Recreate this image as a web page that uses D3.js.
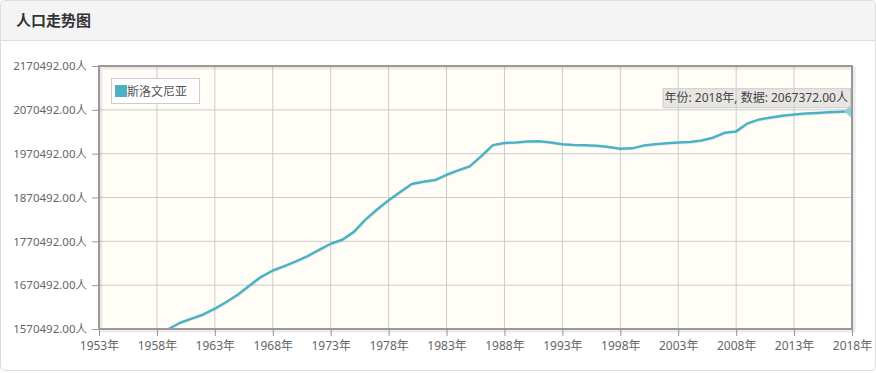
<!DOCTYPE html>
<html lang="zh">
<head>
  <meta charset="UTF-8">
  <title>人口走势图</title>
  <script src="https://d3js.org/d3.v7.min.js"></script>
  <style>
    body { margin: 0; background: #fff; }
    svg text { font-family: "Noto Sans", "Noto Sans CJK SC", sans-serif; }
  </style>
</head>
<body>
<div id="chartContainer"></div>
<script>
  // data
  const seriesName = "斯洛文尼亚";
  const years = d3.range(1959, 2019);
  const population = [
    1570492, 1584700, 1594100, 1603600, 1617000, 1632100, 1649200, 1669900, 1689500, 1704000,
    1713900, 1724900, 1736800, 1751200, 1765000, 1774000, 1792000, 1820000, 1843000, 1864000,
    1883000, 1901300, 1906500, 1910300, 1922300, 1932200, 1941600, 1965000, 1990000, 1995000,
    1996000, 1998000, 1999000, 1996000, 1992000, 1990000, 1989500, 1988500, 1985500, 1981600,
    1982600, 1988900, 1992000, 1994500, 1995700, 1997000, 2000500, 2006900, 2018100, 2021300,
    2039700, 2048600, 2052800, 2057200, 2060000, 2062000, 2063500, 2065000, 2066400, 2067372
  ];
  const xTicks = [1953, 1958, 1963, 1968, 1973, 1978, 1983, 1988, 1993, 1998, 2003, 2008, 2013, 2018];
  const yTicks = [1570492, 1670492, 1770492, 1870492, 1970492, 2070492, 2170492];

  const width = 876, height = 373;
  const plot = { left: 99, right: 852, top: 66, bottom: 329 };
  const lineColor = "#4bb2c5";

  const svg = d3.select("#chartContainer").append("svg")
    .attr("width", width)
    .attr("height", height);

  // panel + header
  svg.append("rect")
    .attr("x", 0.5).attr("y", 0.5)
    .attr("width", width - 1).attr("height", height - 3)
    .attr("rx", 4)
    .attr("fill", "#fff").attr("stroke", "#dddddd");
  svg.append("path")
    .attr("d", `M1,40 V5 Q1,1 5,1 H${width - 5} Q${width - 1},1 ${width - 1},5 V40 Z`)
    .attr("fill", "#f4f4f4");
  svg.append("line")
    .attr("x1", 1).attr("x2", width - 1)
    .attr("y1", 40.5).attr("y2", 40.5)
    .attr("stroke", "#dddddd");
  svg.append("text")
    .attr("x", 16).attr("y", 26)
    .attr("font-size", "15px").attr("font-weight", "bold")
    .attr("fill", "#333")
    .text("人口走势图");

  const xScale = d3.scaleLinear().domain([xTicks[0], xTicks[xTicks.length - 1]]).range([plot.left, plot.right]);
  const yScale = d3.scaleLinear().domain([yTicks[0], yTicks[yTicks.length - 1]]).range([plot.bottom, plot.top]);

  // plot background
  svg.append("rect")
    .attr("x", plot.left).attr("y", plot.top)
    .attr("width", plot.right - plot.left).attr("height", plot.bottom - plot.top)
    .attr("fill", "#fffdf6");

  // grid
  svg.append("g").selectAll("line").data(xTicks).join("line")
    .attr("x1", d => xScale(d)).attr("x2", d => xScale(d))
    .attr("y1", plot.top).attr("y2", plot.bottom)
    .attr("stroke", "#cccccc");
  svg.append("g").selectAll("line").data(yTicks).join("line")
    .attr("x1", plot.left).attr("x2", plot.right)
    .attr("y1", d => yScale(d)).attr("y2", d => yScale(d))
    .attr("stroke", "#cccccc");

  // axes
  const yAxis = d3.axisLeft(yScale).tickValues(yTicks)
    .tickFormat(d => d.toFixed(2) + "人").tickSize(6).tickPadding(5);
  const xAxis = d3.axisBottom(xScale).tickValues(xTicks)
    .tickFormat(d => d + "年").tickSize(6).tickPadding(5);

  const gy = svg.append("g").attr("transform", `translate(${plot.left - 1},0)`).call(yAxis);
  const gx = svg.append("g").attr("transform", `translate(0,${plot.bottom + 1})`).call(xAxis);
  [gx, gy].forEach(g => {
    g.select(".domain").remove();
    g.selectAll(".tick line").attr("stroke", "#999");
    g.selectAll(".tick text").attr("fill", "#666").attr("font-size", "12px")
      .attr("font-family", "\"Noto Sans\", \"Noto Sans CJK SC\", sans-serif");
  });
  gy.selectAll(".tick text").attr("font-size", "11.5px");

  // series
  const clip = svg.append("clipPath").attr("id", "plotClip").append("rect")
    .attr("x", plot.left).attr("y", plot.top)
    .attr("width", plot.right - plot.left).attr("height", plot.bottom - plot.top);

  const points = years.map((yr, i) => [yr, population[i]]);
  const line = d3.line().x(d => xScale(d[0])).y(d => yScale(d[1]));
  const series = svg.append("g").attr("clip-path", "url(#plotClip)");
  series.append("path").datum(points)
    .attr("d", line)
    .attr("transform", "translate(1,1)")
    .attr("fill", "none").attr("stroke", "rgba(0,0,0,0.05)").attr("stroke-width", 2.5);
  series.append("path").datum(points)
    .attr("d", line)
    .attr("fill", "none").attr("stroke", lineColor).attr("stroke-width", 2.5)
    .attr("stroke-linejoin", "round");

  // highlighted last point
  const last = points[points.length - 1];
  const hx = xScale(last[0]), hy = yScale(last[1]), hr = 7.5;
  series.append("path")
    .attr("d", `M${hx - hr},${hy} L${hx},${hy - hr} L${hx + hr},${hy} L${hx},${hy + hr} Z`)
    .attr("fill", "#8ad0dc");

  // plot border with shadow
  svg.append("rect")
    .attr("x", plot.left + 2).attr("y", plot.top + 2)
    .attr("width", plot.right - plot.left).attr("height", plot.bottom - plot.top)
    .attr("fill", "none").attr("stroke", "rgba(0,0,0,0.08)").attr("stroke-width", 3);
  svg.append("rect")
    .attr("x", plot.left).attr("y", plot.top)
    .attr("width", plot.right - plot.left).attr("height", plot.bottom - plot.top)
    .attr("fill", "none").attr("stroke", "#999999").attr("stroke-width", 2);

  // legend
  const legend = svg.append("g").attr("transform", `translate(${plot.left + 12},${plot.top + 12})`);
  legend.append("rect")
    .attr("x", 0.5).attr("y", 0.5).attr("width", 88).attr("height", 25)
    .attr("fill", "#fff").attr("stroke", "#cccccc");
  legend.append("rect")
    .attr("x", 4).attr("y", 7).attr("width", 12).attr("height", 12)
    .attr("fill", lineColor);
  legend.append("text")
    .attr("x", 16).attr("y", 17.5)
    .attr("font-size", "12px").attr("fill", "#555")
    .text(seriesName);

  // tooltip
  const tipText = `年份: ${last[0]}年, 数据: ${last[1].toFixed(2)}人`;
  const tip = svg.append("g");
  const tipLabel = tip.append("text")
    .attr("font-size", "12px").attr("fill", "#444")
    .text(tipText);
  const tw = tipLabel.node().getComputedTextLength();
  const tipRight = plot.right - 2, tipTop = hy - 23;
  tip.insert("rect", "text")
    .attr("x", tipRight - tw - 4 + 0.5).attr("y", tipTop + 0.5)
    .attr("width", tw + 4).attr("height", 19)
    .attr("fill", "rgba(208,208,208,0.5)").attr("stroke", "#cccccc");
  tipLabel.attr("x", tipRight - tw - 2).attr("y", tipTop + 14);
</script>
</body>
</html>
